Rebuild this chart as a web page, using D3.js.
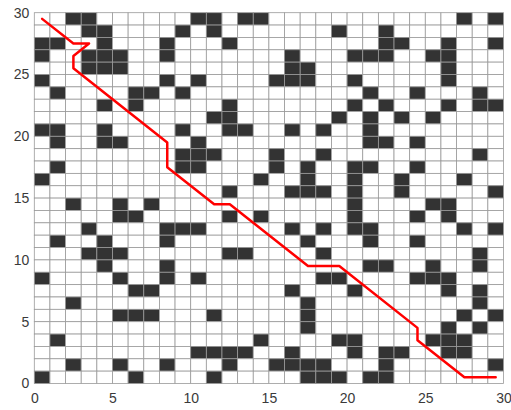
<!DOCTYPE html>
<html>
<head>
<meta charset="utf-8">
<script src="https://cdn.jsdelivr.net/npm/d3@7/dist/d3.min.js"></script>
<style>
body { margin: 0; background: #fff; }
svg { display: block; }
.axis text { font-family: "Liberation Sans", Arial, sans-serif; font-size: 14px; fill: #3a3a3a; }
</style>
</head>
<body>
<svg id="map" width="511" height="410"></svg>
<script>
var nCols = 30, nRows = 30;

// obstacle columns for each grid row, first row = top (y from 29 to 30)
var obstacleRows = [
  [2,3,10,11,13,14,27,29],
  [3,4,9,11,19,22],
  [0,1,4,8,12,22,23,26,29],
  [0,3,4,5,8,16,20,21,22,25,26],
  [3,4,5,16,17,26],
  [0,8,10,15,16,17,20,26],
  [1,6,7,9,21,24,28],
  [4,6,12,20,22,26,28,29],
  [11,12,19,21,23,25],
  [0,1,4,9,12,13,16,18,21],
  [1,4,5,10,21,22,24],
  [9,10,11,15,18,28],
  [1,9,10,15,17,20,21,24],
  [0,14,17,20,23,27],
  [12,16,17,18,20,23,29],
  [2,5,7,20,25,26],
  [5,6,12,14,20,24,26],
  [3,8,9,10,16,18,20,21,27,29],
  [1,4,8,17,21,24],
  [3,4,5,12,13,18,28],
  [4,8,21,22,25,28],
  [0,5,8,10,18,19,24,25,26],
  [6,7,16,20,26,28],
  [2,17,28],
  [5,6,7,11,17,27,29],
  [17,26,28],
  [1,14,19,20,25,26,27],
  [10,11,12,13,16,20,22,23,26,27],
  [2,5,8,12,15,16,17,18,22,29],
  [0,6,11,17,18,19,21,22]
];

// planned path (cell centres)
var pathX = [0.5,2.5,3.5,2.5,2.5,8.5,8.5,11.5,12.5,17.5,19.5,24.5,24.5,27.5,29.5];
var pathY = [29.5,27.5,27.5,26.5,25.5,19.5,17.5,14.5,14.5,9.5,9.5,4.5,3.5,0.5,0.5];

var xTicks = [0,5,10,15,20,25,30];
var yTicks = [0,5,10,15,20,25,30];

var margin = {top: 12.7, left: 34.3, right: 7.5, bottom: 26.5};
var width = 511, height = 410;

var svg = d3.select("#map");

var xScale = d3.scaleLinear().domain([0, nCols]).range([margin.left, width - margin.right]);
var yScale = d3.scaleLinear().domain([0, nRows]).range([height - margin.bottom, margin.top]);

// cells
var cells = [];
obstacleRows.forEach(function(cols, r) {
  for (var c = 0; c < nCols; c++) {
    cells.push({x: c, y: nRows - 1 - r, blocked: cols.indexOf(c) >= 0});
  }
});

svg.append("g")
  .selectAll("rect")
  .data(cells)
  .enter().append("rect")
    .attr("x", function(d) { return xScale(d.x); })
    .attr("y", function(d) { return yScale(d.y + 1); })
    .attr("width", function(d) { return xScale(d.x + 1) - xScale(d.x); })
    .attr("height", function(d) { return yScale(d.y) - yScale(d.y + 1); })
    .attr("fill", function(d) { return d.blocked ? "#333333" : "#ffffff"; })
    .attr("stroke", "#9a9a9a")
    .attr("stroke-width", 0.8);

// axes
var xAxis = d3.axisBottom(xScale).tickValues(xTicks).tickSize(0).tickPadding(10);
var yAxis = d3.axisLeft(yScale).tickValues(yTicks).tickSize(0).tickPadding(5);

svg.append("g")
  .attr("class", "axis")
  .attr("transform", "translate(0," + (height - margin.bottom) + ")")
  .call(xAxis)
  .select(".domain").remove();

svg.append("g")
  .attr("class", "axis")
  .attr("transform", "translate(" + margin.left + ",0)")
  .call(yAxis)
  .select(".domain").remove();

// path
var line = d3.line()
  .x(function(d) { return xScale(d[0]); })
  .y(function(d) { return yScale(d[1]); });

svg.append("path")
  .datum(d3.zip(pathX, pathY))
  .attr("fill", "none")
  .attr("stroke", "#ff0000")
  .attr("stroke-width", 2.5)
  .attr("stroke-linejoin", "round")
  .attr("stroke-linecap", "round")
  .attr("d", line);
</script>
</body>
</html>
